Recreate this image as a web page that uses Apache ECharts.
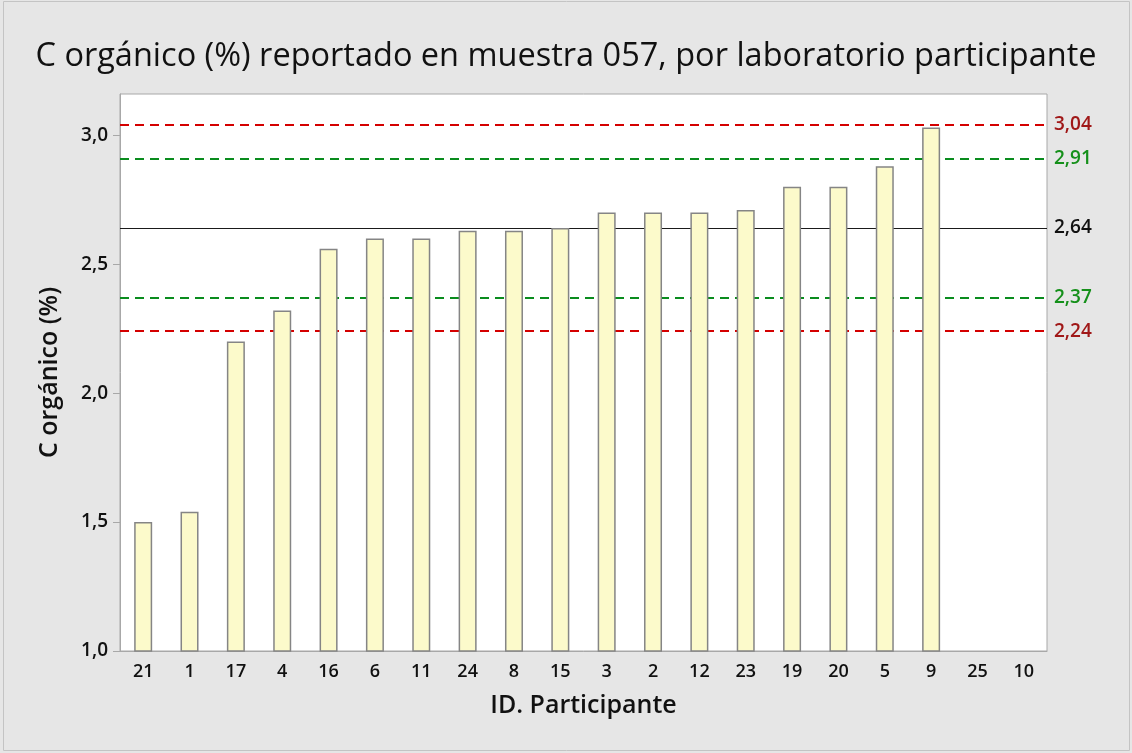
<!DOCTYPE html>
<html>
<head>
<meta charset="utf-8">
<script src="https://cdn.jsdelivr.net/npm/echarts@6/dist/echarts.min.js"></script>
<style>
  html, body { margin: 0; padding: 0; background: #e6e6e6; }
  #chart { width: 1132px; height: 753px; }
</style>
</head>
<body>
<div id="chart"></div>
<script>
// participantes, ordenados por valor reportado
const participants = ['21', '1', '17', '4', '16', '6', '11', '24', '8', '15', '3', '2', '12', '23', '19', '20', '5', '9', '25', '10'];
const values = [1.50, 1.54, 2.20, 2.32, 2.56, 2.60, 2.60, 2.63, 2.63, 2.64, 2.70, 2.70, 2.70, 2.71, 2.80, 2.80, 2.88, 3.03, null, null];

// lineas de referencia
const refValues = [3.04, 2.91, 2.64, 2.37, 2.24];
const refLabels = ['3,04', '2,91', '2,64', '2,37', '2,24'];
const refKinds = ['red', 'green', 'center', 'green', 'red'];

const yTickValues = [1.0, 1.5, 2.0, 2.5, 3.0];
const yRange = { min: 1.0, max: 3.16 };

const font = "'Open Sans', 'Noto Sans', sans-serif";
const lineColors = { red: '#d40000', green: '#0a8c1e', center: '#1a1a1a' };
const textColors = { red: '#a01818', green: '#15901a', center: '#111111' };

const chart = echarts.init(document.getElementById('chart'));

const markData = refValues.map((v, i) => ({
  yAxis: v,
  lineStyle: {
    color: lineColors[refKinds[i]],
    type: refKinds[i] === 'center' ? 'solid' : [9, 6],
    width: refKinds[i] === 'center' ? 1.2 : 2
  },
  label: {
    formatter: refLabels[i],
    color: textColors[refKinds[i]]
  }
}));

const option = {
  backgroundColor: '#e6e6e6',
  animation: false,
  textStyle: { fontFamily: font },
  title: {
    text: 'C orgánico (%) reportado en muestra 057, por laboratorio participante',
    left: 'center',
    top: 35,
    textStyle: { fontFamily: font, fontSize: 32.5, fontWeight: 'normal', color: '#111' }
  },
  graphic: [{
    type: 'rect',
    shape: { x: 3.5, y: 1.5, width: 1126, height: 749 },
    style: { fill: 'none', stroke: '#c4c4c4', lineWidth: 1 },
    silent: true
  }],
  grid: {
    left: 120, top: 94, right: 85, bottom: 102,
    show: true,
    backgroundColor: '#ffffff',
    borderColor: '#a8a8a8',
    borderWidth: 1
  },
  xAxis: {
    type: 'category',
    data: participants,
    name: 'ID. Participante',
    nameLocation: 'middle',
    nameGap: 42,
    nameTextStyle: { fontSize: 25, fontWeight: 600, color: '#111' },
    axisLine: { lineStyle: { color: '#a8a8a8' } },
    axisTick: { alignWithLabel: true, length: 7, lineStyle: { color: '#a8a8a8' } },
    axisLabel: { fontSize: 18, fontWeight: 600, color: '#111', margin: 12 },
    splitLine: { show: false }
  },
  yAxis: {
    type: 'value',
    min: yRange.min,
    max: yRange.max,
    name: 'C orgánico (%)',
    nameLocation: 'middle',
    nameGap: 58,
    nameTextStyle: { fontSize: 25, fontWeight: 600, color: '#111' },
    axisLine: { show: true, lineStyle: { color: '#a8a8a8' } },
    axisTick: { show: true, length: 7, customValues: yTickValues, lineStyle: { color: '#a8a8a8' } },
    axisLabel: {
      fontSize: 19, fontWeight: 600, color: '#111', margin: 12,
      customValues: yTickValues,
      formatter: v => v.toFixed(1).replace('.', ',')
    },
    splitLine: { show: false }
  },
  series: [{
    type: 'bar',
    data: values,
    barWidth: 18,
    itemStyle: { color: '#fcfacb', borderColor: '#858585', borderWidth: 1.5 },
    markLine: {
      silent: true,
      symbol: 'none',
      z: 1,
      label: { position: 'end', distance: 7, fontSize: 19, fontWeight: 600, fontFamily: font },
      data: markData
    }
  }]
};

chart.setOption(option);
</script>
</body>
</html>
